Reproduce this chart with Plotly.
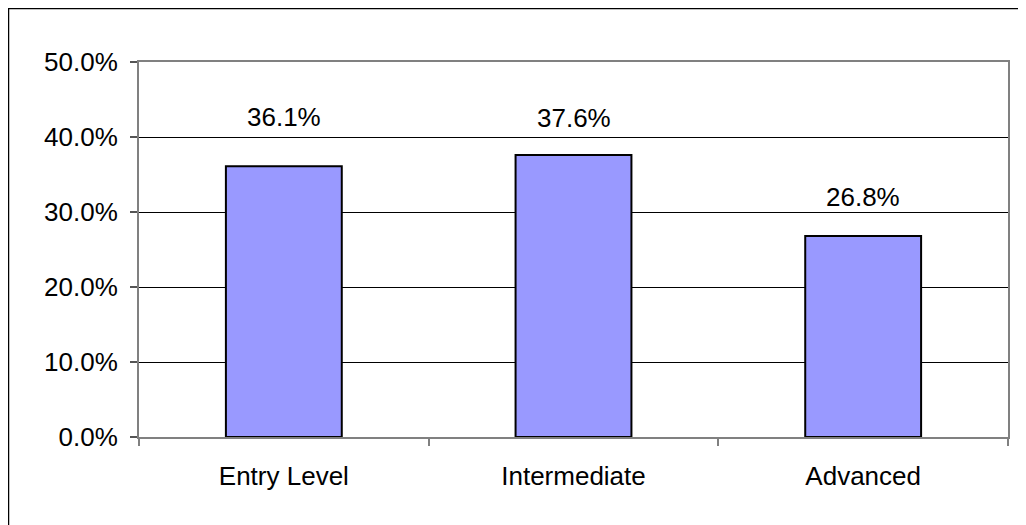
import plotly.graph_objects as go

categories = ["Entry Level", "Intermediate", "Advanced"]
values = [0.361, 0.376, 0.268]
y_ticks = [0.0, 0.1, 0.2, 0.3, 0.4, 0.5]

label_shift = [49, 37, 39]

FONT = "Liberation Sans, Arial, sans-serif"
W, H = 1026, 517
L, R, T, B = 131, 26, 54, 88
PW, PH = W - L - R, H - T - B

fig = go.Figure()
fig.add_trace(go.Bar(
    x=categories, y=values, width=0.4,
    marker=dict(color="#9999FF", line=dict(color="black", width=2)),
    hoverinfo="skip",
))

for c, v, s in zip(categories, values, label_shift):
    fig.add_annotation(x=c, y=v, text=f"{v*100:.1f}%", showarrow=False,
                       yshift=s, font=dict(family=FONT, size=26, color="black"))

fig.update_layout(
    width=W, height=H,
    margin=dict(l=L, r=R, t=T, b=B),
    paper_bgcolor="white", plot_bgcolor="white",
    showlegend=False,
    font=dict(family=FONT, size=26, color="black"),
    shapes=[
        dict(type="line", xref="paper", yref="paper", x0=-L/PW, x1=1.3,
             y0=1 + (T - 0.5)/PH, y1=1 + (T - 0.5)/PH,
             line=dict(color="black", width=1.5)),
        dict(type="line", xref="paper", yref="paper", x0=-(L - 0.5)/PW, x1=-(L - 0.5)/PW,
             y0=1 + T/PH, y1=-0.5,
             line=dict(color="black", width=1.5)),
    ],
)
fig.update_xaxes(
    showline=True, linecolor="#808080", linewidth=2, mirror=True,
    ticks="outside", tickson="boundaries", ticklen=7, tickcolor="#808080", tickwidth=1.5,
    showgrid=False, tickfont=dict(size=26), ticklabelstandoff=15,
)
fig.update_yaxes(
    range=[0, 0.5], tickvals=y_ticks, tickformat=".1%",
    showline=True, linecolor="#808080", linewidth=2, mirror=True,
    ticks="outside", ticklen=7, tickcolor="#555555", tickwidth=1.5,
    showgrid=True, gridcolor="black", gridwidth=1, zeroline=False,
    tickfont=dict(size=26), ticklabelstandoff=7,
)

fig.write_html("out.html")
